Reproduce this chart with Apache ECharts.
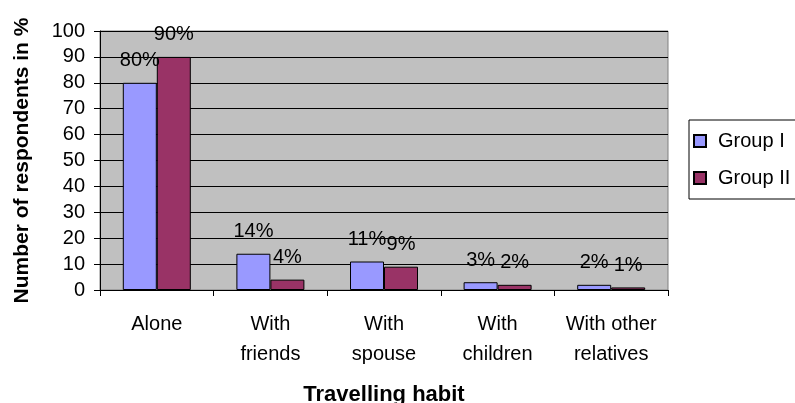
<!DOCTYPE html>
<html>
<head>
<meta charset="utf-8">
<script src="https://cdn.jsdelivr.net/npm/echarts@6/dist/echarts.min.js"></script>
<style>html,body{margin:0;padding:0;background:#fff}#c{width:795px;height:403px}</style>
</head>
<body>
<div id="c"></div>
<script>
var categories = ['Alone', 'With\nfriends', 'With\nspouse', 'With\nchildren', 'With other\nrelatives'];
var groupI = [80, 14, 11, 3, 2];
var groupII = [90, 4, 9, 2, 1];
var seriesNames = ['Group I', 'Group II'];
var yTicks = { min: 0, max: 100, interval: 10 };
var xTitle = 'Travelling habit';
var yTitle = 'Number of respondents in %';

var FONT = 'Liberation Sans, Arial, sans-serif';
var chart = echarts.init(document.getElementById('c'), null, { renderer: 'canvas' });
var labelCfg = {
  show: true, position: 'top', distance: 12, formatter: '{c}%',
  color: '#000', fontFamily: FONT, fontSize: 20
};
chart.setOption({
  animation: false,
  backgroundColor: '#fff',
  grid: {
    left: 100, right: 127, top: 31, bottom: 113,
    outerBoundsMode: 'none', containLabel: false,
    show: true, backgroundColor: '#C0C0C0', borderColor: '#808080', borderWidth: 1
  },
  legend: {
    orient: 'vertical', left: 689, top: 120,
    data: seriesNames,
    itemWidth: 12, itemHeight: 12, itemGap: 17,
    icon: 'rect',
    borderColor: '#000', borderWidth: 1,
    padding: [11, 40, 11, 4],
    textStyle: { fontFamily: FONT, fontSize: 20, color: '#000', padding: [0, 0, 0, 7] }
  },
  xAxis: {
    type: 'category', data: categories,
    name: xTitle, nameLocation: 'middle', nameGap: 94,
    nameTextStyle: { fontFamily: FONT, fontSize: 22, fontWeight: 'bold', color: '#000' },
    axisLine: { lineStyle: { color: '#000', width: 1 } },
    axisTick: { show: true, length: 6, lineStyle: { color: '#000' } },
    axisLabel: { interval: 0, fontFamily: FONT, fontSize: 20, color: '#000', lineHeight: 30, margin: 19 },
    splitLine: { show: false }
  },
  yAxis: {
    type: 'value', min: yTicks.min, max: yTicks.max, interval: yTicks.interval,
    name: yTitle, nameLocation: 'middle', nameGap: 67, nameRotate: 90,
    nameTextStyle: { fontFamily: FONT, fontSize: 21, fontWeight: 'bold', color: '#000' },
    axisLine: { show: true, lineStyle: { color: '#000', width: 1 } },
    axisTick: { show: true, length: 6, lineStyle: { color: '#000' } },
    axisLabel: { fontFamily: FONT, fontSize: 20, color: '#000', margin: 15 },
    splitLine: { show: true, lineStyle: { color: '#000', width: 1 } }
  },
  series: [
    {
      name: seriesNames[0], type: 'bar', data: groupI,
      barWidth: 34, barGap: '0%',
      itemStyle: { color: '#9999FF', borderColor: '#000', borderWidth: 1 },
      label: labelCfg
    },
    {
      name: seriesNames[1], type: 'bar', data: groupII,
      barWidth: 34, barGap: '0%',
      itemStyle: { color: '#993366', borderColor: '#000', borderWidth: 1 },
      label: labelCfg
    }
  ]
});
</script>
</body>
</html>
